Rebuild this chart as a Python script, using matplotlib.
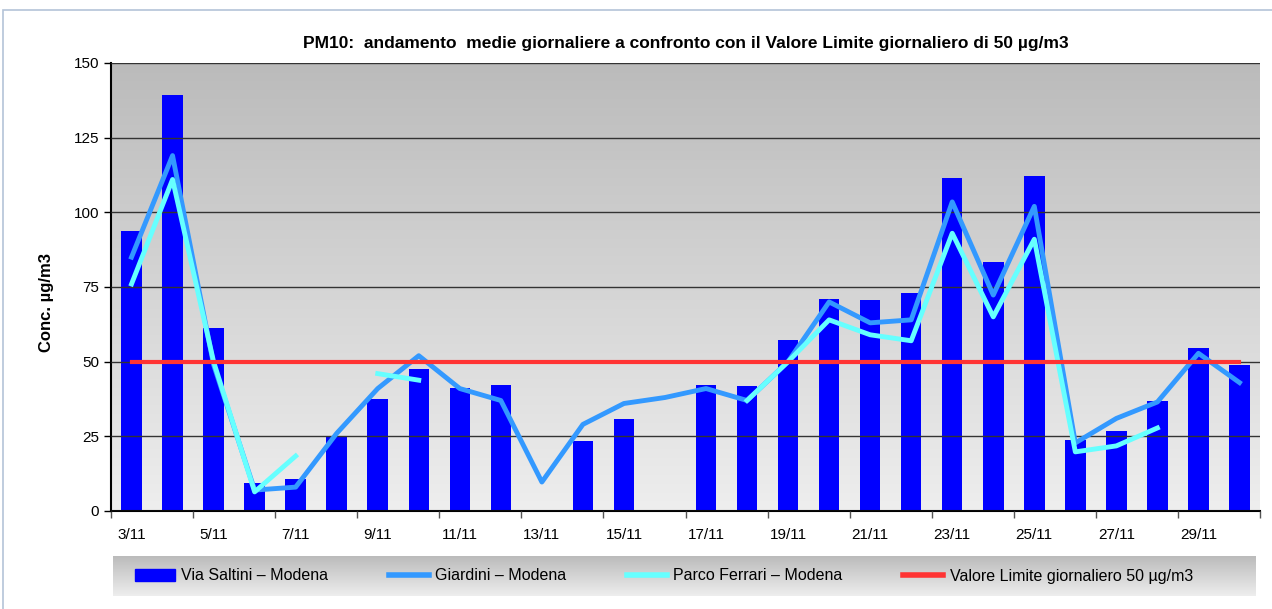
import matplotlib
matplotlib.use("Agg")
import matplotlib.pyplot as plt
import numpy as np
from matplotlib.patches import Rectangle
from matplotlib.lines import Line2D

plt.rcParams['font.family'] = ['Liberation Sans', 'DejaVu Sans']

# dati: giorni 3/11 - 30/11
giorni = [f"{d}/11" for d in range(3, 31)]
via_saltini = [93.7, 139.3, 61.3, 9.3, 10.6, 24.8, 37.5, 47.5, 41.2, 42.2, np.nan, 23.4, 30.8, np.nan,
               42.2, 41.8, 57.2, 71.0, 70.6, 73.0, 111.5, 83.4, 112.2, 23.8, 26.8, 36.8, 54.6, 49.0]
giardini = [85, 119, 49, 7, 8, 26, 41, 52, 41, 37, 9.7, 29, 36, 38,
            41, 37, 50, 70, 63, 64, 103.5, 72.3, 102, 22.8, 31, 36.5, 52.8, 43]
parco_ferrari = [76, 111, 50, 6.4, 18.4, np.nan, 46, 43.8, np.nan, np.nan, np.nan, np.nan, np.nan, np.nan,
                 np.nan, 37, 50, 64, 59, 57, 93, 65, 91, 19.8, 21.8, 27.8, np.nan, np.nan]
valore_limite = [50] * len(giorni)

x = np.arange(len(giorni))

fig = plt.figure(figsize=(12.72, 6.09), dpi=100)

# cornice esterna
fig.patches.append(Rectangle((3/1272, -0.1), 1.2, 1 - 10/609 + 0.1, transform=fig.transFigure,
                             fill=False, edgecolor='#b4c4d8', linewidth=1.2))

ax = fig.add_axes([111/1272, 1 - 511/609, (1260 - 111)/1272, (511 - 63)/609])

# sfondo sfumato
grad = np.linspace(0, 1, 256).reshape(-1, 1)
cmap = matplotlib.colors.LinearSegmentedColormap.from_list('g', ['#bbbbbb', '#eeeeee'])
ax.imshow(grad, extent=[0, 1, 0, 1], transform=ax.transAxes, cmap=cmap, aspect='auto', zorder=0)

ax.bar(x, via_saltini, width=0.5, color='#0000ff', zorder=2)
ax.plot(x, giardini, color='#3399ff', linewidth=3.5, zorder=3)
ax.plot(x, parco_ferrari, color='#66ffff', linewidth=3.5, zorder=4)
ax.plot(x, valore_limite, color='#ff3333', linewidth=3, zorder=5)

ax.set_xlim(-0.5, len(giorni) - 0.5)
ax.set_ylim(0, 150)
ax.set_yticks(np.arange(0, 151, 25))
ax.yaxis.grid(True, color='#333333', linewidth=1)
ax.set_axisbelow(False)
for gl in ax.get_ygridlines():
    gl.set_zorder(1)

ax.set_xticks(np.arange(-0.5, len(giorni), 2))
ax.set_xticklabels([])
ax.set_xticks(x[::2], minor=True)
ax.set_xticklabels(giorni[::2], minor=True)
ax.tick_params(axis='x', which='major', length=5, width=1, color='#555555')
ax.tick_params(axis='x', which='minor', length=0, labelsize=11, pad=12)
ax.tick_params(axis='y', length=5, width=1, labelsize=11)

for s in ['top', 'right']:
    ax.spines[s].set_visible(False)
ax.spines['left'].set_linewidth(1.5)
ax.spines['bottom'].set_linewidth(1.5)

ax.set_ylabel('Conc. µg/m3', fontsize=12, fontweight='bold')
ax.yaxis.set_label_coords(-0.050, 0.466)
ax.set_title('PM10:  andamento  medie giornaliere a confronto con il Valore Limite giornaliero di 50 µg/m3',
             fontsize=12.5, fontweight='bold', pad=11)

# legenda
lax = fig.add_axes([113/1272, 1 - 596/609, (1256 - 113)/1272, 40/609])
lax.imshow(grad, extent=[0, 1, 0, 1], cmap=cmap, aspect='auto')
lax.set_xlim(0, 1)
lax.set_ylim(0, 1)
lax.axis('off')
handles = [Rectangle((0, 0), 1, 1, color='#0000ff'),
           Line2D([], [], color='#3399ff', linewidth=4),
           Line2D([], [], color='#66ffff', linewidth=4),
           Line2D([], [], color='#ff3333', linewidth=4)]
labels = ['Via Saltini – Modena', 'Giardini – Modena', 'Parco Ferrari – Modena', 'Valore Limite giornaliero 50 µg/m3']
lax.legend(handles, labels, ncol=4, loc='center left', bbox_to_anchor=(22/1143, 0.5), frameon=False,
           fontsize=11.5, columnspacing=3.8, handlelength=2.5, handletextpad=0.4,
           borderpad=0, borderaxespad=0)

fig.savefig('out.png', dpi=100)
